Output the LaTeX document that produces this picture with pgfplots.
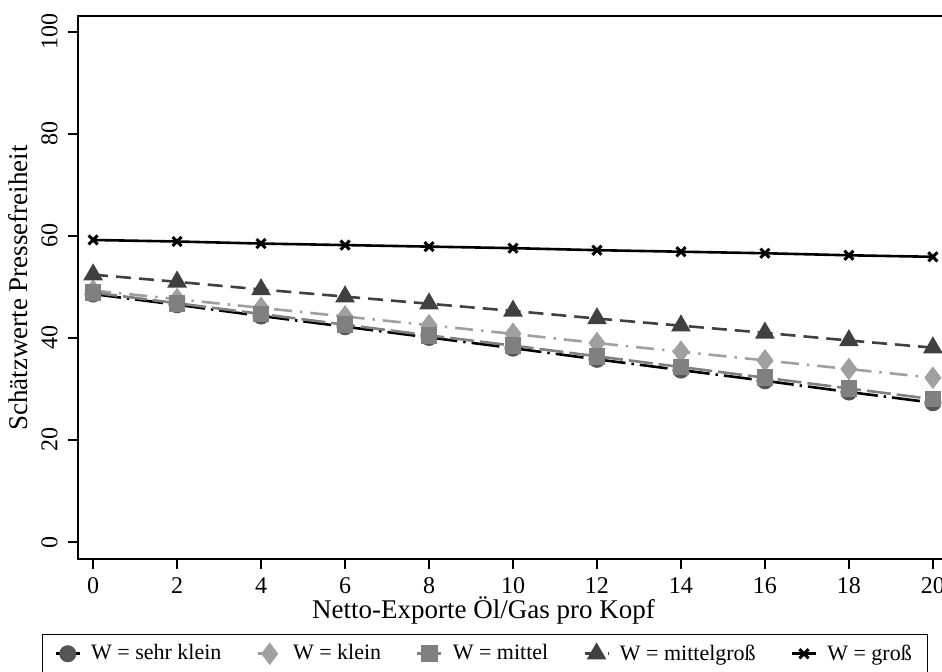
\documentclass[border=0pt]{standalone}
\usepackage{pgfplots}
\pgfplotsset{compat=1.18}
\usepackage{fontspec}
\setmainfont{Liberation Serif}
\definecolor{cSK}{HTML}{555555}
\definecolor{cK}{HTML}{A0A0A0}
\definecolor{cM}{HTML}{808080}
\definecolor{cMG}{HTML}{404040}
\begin{document}
\begin{tikzpicture}
\path[use as bounding box] (0,0) rectangle (471pt,335.5pt);
\clip (0,0) rectangle (471pt,335.5pt);
\begin{axis}[
  at={(39pt,56pt)}, anchor=south west,
  width=435pt, height=271.5pt, scale only axis,
  xmin=-0.36, xmax=20.36, ymin=-3.33, ymax=103.1,
  xtick={0,2,...,20}, ytick={0,20,...,100},
  tick align=outside, major tick length=5pt,
  xtick pos=bottom, ytick pos=left,
  axis line style={line width=0.9pt},
  every tick/.style={line width=0.8pt, black},
  tick label style={font=\fontsize{12}{14}\selectfont},
  /pgf/number format/assume math mode=true,
  yticklabel style={rotate=90, anchor=south, inner sep=0pt, yshift=5pt},
  xticklabel style={inner sep=0pt, yshift=-4pt, anchor=north},
  xlabel={Netto-Exporte Öl/Gas pro Kopf},
  ylabel={Schätzwerte Pressefreiheit},
  label style={font=\fontsize{13.5}{16}\selectfont},
  xlabel style={at={(axis description cs:0.466,-0.095)}, anchor=center},
  ylabel style={at={(axis description cs:-0.069,0.499)}, anchor=center, rotate=0},
  legend columns=5,
  legend style={at={(axis description cs:0.468,-0.1745)}, anchor=center,
    draw=black, line width=0.6pt, font=\fontsize{11}{13}\selectfont,
    inner xsep=6pt, inner ysep=3pt,
    /tikz/every even column/.append style={column sep=15.5pt},
    /tikz/every odd column/.append style={column sep=3pt}},
  legend image code/.code={
    \draw[#1, mark repeat=2, mark phase=2] plot coordinates {(0pt,0pt) (6pt,0pt) (12pt,0pt)};},
]
\addplot[black, line width=1.3pt, dash pattern=on 14pt off 3pt on 1.2pt off 3pt,
  mark=*, mark size=3.6pt, mark options={solid, fill=cSK, draw=cSK}]
  coordinates {(0,48.6) (2,46.5) (4,44.3) (6,42.2) (8,40.1) (10,38.0) (12,35.8) (14,33.7) (16,31.6) (18,29.4) (20,27.3)};
\addlegendentry{W = sehr klein}
\addplot[cK, line width=1.3pt, dash pattern=on 9pt off 4pt on 1.2pt off 4pt,
  mark=diamond*, mark size=4.6pt, mark options={solid, fill=cK, draw=cK}]
  coordinates {(0,49.3) (2,47.6) (4,45.9) (6,44.2) (8,42.5) (10,40.8) (12,39.0) (14,37.3) (16,35.6) (18,33.9) (20,32.2)};
\addlegendentry{W = klein}
\addplot[cM, line width=1.3pt, dash pattern=on 12pt off 3pt,
  mark=square*, mark size=3.5pt, mark options={solid, fill=cM, draw=cM}]
  coordinates {(0,48.9) (2,46.8) (4,44.7) (6,42.6) (8,40.5) (10,38.5) (12,36.4) (14,34.3) (16,32.2) (18,30.1) (20,28.0)};
\addlegendentry{W = mittel}
\addplot[cMG, line width=1.3pt, dash pattern=on 7.5pt off 4pt,
  mark=triangle*, mark size=4.4pt, mark options={solid, fill=cMG, draw=cMG}]
  coordinates {(0,52.4) (2,51.0) (4,49.5) (6,48.1) (8,46.7) (10,45.3) (12,43.8) (14,42.4) (16,41.0) (18,39.5) (20,38.1)};
\addlegendentry{W = mittelgroß}
\addplot[black, line width=1.3pt, solid,
  mark=x, mark size=3.2pt, mark options={solid, line width=1.5pt}]
  coordinates {(0,59.2) (2,58.9) (4,58.5) (6,58.2) (8,57.9) (10,57.6) (12,57.2) (14,56.9) (16,56.6) (18,56.2) (20,55.9)};
\addlegendentry{W = groß}
\end{axis}
\end{tikzpicture}
\end{document}
